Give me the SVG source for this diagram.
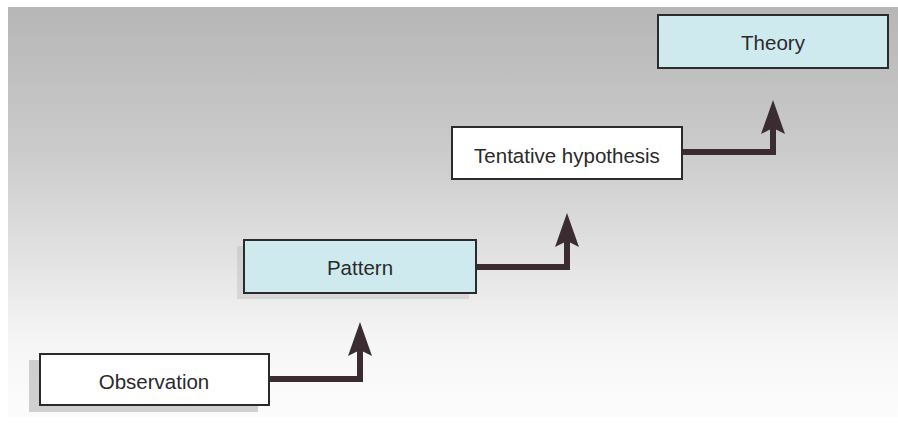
<svg xmlns="http://www.w3.org/2000/svg" width="898" height="425" viewBox="0 0 898 425">
  <defs>
    <linearGradient id="bg" x1="0" y1="0" x2="0" y2="1">
      <stop offset="0" stop-color="#b6b6b6"/>
      <stop offset="0.35" stop-color="#cbcbcb"/>
      <stop offset="0.65" stop-color="#e6e6e6"/>
      <stop offset="0.82" stop-color="#f6f6f6"/>
      <stop offset="1" stop-color="#fcfcfc"/>
    </linearGradient>
    <!-- arrowhead drawn along +x; ref point is the notch where the stem ends -->
    <marker id="head" viewBox="0 0 34 24" refX="6" refY="12" markerWidth="34" markerHeight="24" markerUnits="userSpaceOnUse" orient="auto">
      <path d="M34 12 L0 0 L6 12 L0 24 Z" fill="#3b2c32"/>
    </marker>
  </defs>
  <style>
    .box { stroke: #2b2b2b; stroke-width: 2; }
    .white { fill: #ffffff; }
    .blue { fill: #cfeaef; }
    .shadow { fill: #9c9c9c; opacity: 0.45; }
    .shadow.light { opacity: 0.25; }
    .label { font-family: "Liberation Sans", Arial, sans-serif; font-size: 20.5px; fill: #2a2a2a; text-anchor: middle; }
    .conn { fill: none; stroke: #3b2c32; stroke-width: 6; stroke-linejoin: miter; }
  </style>

  <!-- backdrop -->
  <rect x="0" y="0" width="898" height="425" fill="#ffffff"/>
  <rect x="8" y="7" width="890" height="410" fill="url(#bg)"/>

  <!-- connectors -->
  <g id="connectors">
    <path class="conn" d="M270 379 H360 V350" marker-end="url(#head)"/>
    <path class="conn" d="M476 267 H567 V241" marker-end="url(#head)"/>
    <path class="conn" d="M682 152 H773 V128" marker-end="url(#head)"/>
  </g>

  <g id="observation">
    <rect class="shadow" x="29" y="360" width="229" height="52"/>
    <rect class="box white" x="40" y="354" width="229" height="51"/>
    <text class="label" x="154" y="389">Observation</text>
  </g>

  <g id="pattern">
    <rect class="shadow light" x="237" y="246" width="232" height="53"/>
    <rect class="box blue" x="244" y="240" width="232" height="53"/>
    <text class="label" x="360" y="275">Pattern</text>
  </g>

  <g id="tentative-hypothesis">
    <rect class="box white" x="452" y="127" width="230" height="52"/>
    <text class="label" x="567" y="163">Tentative hypothesis</text>
  </g>

  <g id="theory">
    <rect class="box blue" x="658" y="15" width="230" height="53"/>
    <text class="label" x="773" y="50">Theory</text>
  </g>
</svg>
